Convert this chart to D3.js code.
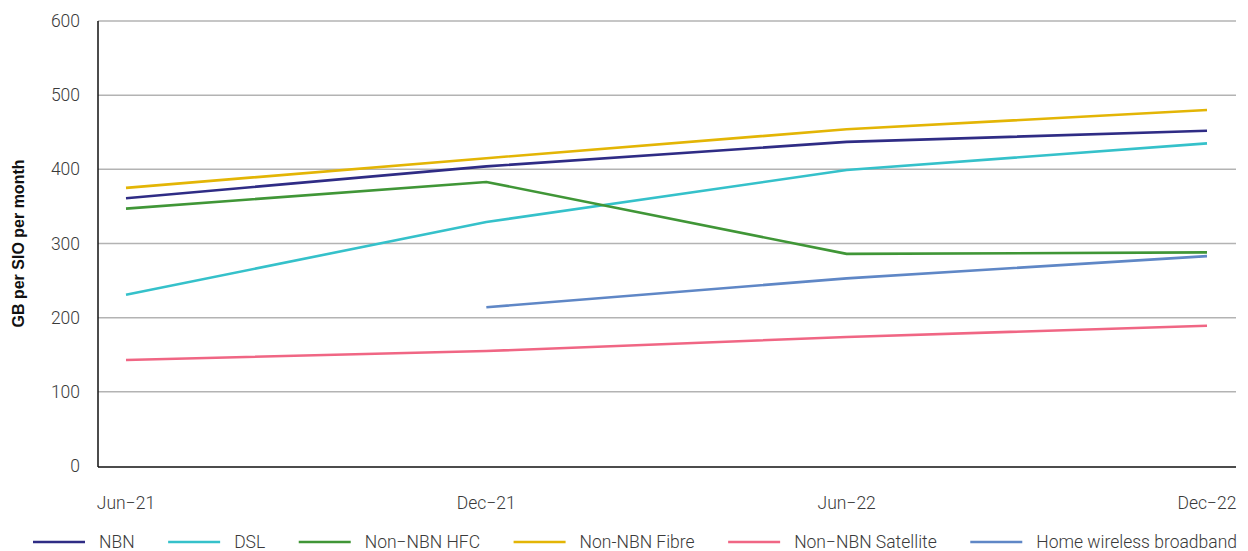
<!DOCTYPE html>
<html>
<head>
<meta charset="utf-8">
<script src="https://cdn.jsdelivr.net/npm/d3@7"></script>
<style>
  html, body { margin: 0; padding: 0; background: #fff; }
  svg { display: block; font-family: Roboto, "Noto Sans", sans-serif; }
</style>
</head>
<body>
<svg id="chart" width="1248" height="551"></svg>
<script>
// Average monthly download volume per service (GB per SIO)
const periods = ["Jun\u221221", "Dec\u221221", "Jun\u221222", "Dec\u221222"];
const yTicks = [0, 100, 200, 300, 400, 500, 600];

const nbn          = [361, 404, 437, 452];
const dsl          = [231, 329, 399, 435];
const nonNbnHfc    = [347, 383, 286, 288];
const nonNbnFibre  = [375, 415, 454, 480];
const nonNbnSat    = [143, 155, 174, 189];
const homeWireless = [null, 214, 253, 283];

const seriesNames  = ["NBN", "DSL", "Non\u2212NBN HFC", "Non-NBN Fibre", "Non\u2212NBN Satellite", "Home wireless broadband"];
const seriesValues = [nbn, dsl, nonNbnHfc, nonNbnFibre, nonNbnSat, homeWireless];
const seriesColors = ["#2f2c85", "#35c1ca", "#409637", "#e3b505", "#f06684", "#5f87c6"];

const labelSize = 17.5;
const labelColor = "#3a3a3a";

const svg = d3.select("#chart");
const plot = { left: 98, right: 1236, top: 21, bottom: 466 };

const x = d3.scalePoint().domain(periods).range([126, 1207]);
const y = d3.scaleLinear().domain([0, 600]).range([plot.bottom, plot.top]);

// Horizontal gridlines
svg.append("g")
  .selectAll("line")
  .data(yTicks.filter(d => d > 0))
  .join("line")
  .attr("x1", plot.left).attr("x2", plot.right)
  .attr("y1", d => y(d)).attr("y2", d => y(d))
  .attr("stroke", "#b3b3b3").attr("stroke-width", 1.5);

// Y axis tick labels
svg.append("g")
  .selectAll("text")
  .data(yTicks)
  .join("text")
  .attr("x", 80).attr("y", d => y(d))
  .attr("dy", "0.35em")
  .attr("text-anchor", "end")
  .attr("font-size", labelSize).attr("font-weight", 300)
  .attr("fill", labelColor)
  .text(d => d);

// X axis labels
svg.append("g")
  .selectAll("text")
  .data(periods)
  .join("text")
  .attr("x", d => x(d)).attr("y", 509)
  .attr("text-anchor", "middle")
  .attr("font-size", labelSize).attr("font-weight", 300)
  .attr("fill", labelColor)
  .text(d => d);

// Axis lines
svg.append("line")
  .attr("x1", plot.left).attr("x2", plot.left)
  .attr("y1", plot.top).attr("y2", plot.bottom + 1)
  .attr("stroke", "#111").attr("stroke-width", 1.5);
svg.append("line")
  .attr("x1", plot.left).attr("x2", plot.right)
  .attr("y1", plot.bottom + 1).attr("y2", plot.bottom + 1)
  .attr("stroke", "#111").attr("stroke-width", 1.5);

// Y axis title
svg.append("text")
  .attr("transform", `translate(24, ${(plot.top + plot.bottom) / 2}) rotate(-90)`)
  .attr("text-anchor", "middle")
  .attr("font-family", "'Liberation Sans', Arial, sans-serif")
  .attr("font-size", 16).attr("font-weight", 700)
  .attr("fill", "#111")
  .text("GB per SIO per month");

// Series lines
const line = d3.line()
  .defined(d => d.v != null)
  .x(d => x(d.p))
  .y(d => y(d.v));

svg.append("g")
  .selectAll("path")
  .data(seriesValues.map((vals, i) => ({ i, pts: vals.map((v, j) => ({ p: periods[j], v })) })))
  .join("path")
  .attr("d", d => line(d.pts))
  .attr("fill", "none")
  .attr("stroke", d => seriesColors[d.i])
  .attr("stroke-width", 2.6)
  .attr("stroke-linejoin", "round");

// Legend, spread across the bottom
const legend = svg.append("g");
const swatch = 52, swatchGap = 14, legY = 542, legLeft = 33, legRight = 1237;
const items = seriesNames.map((name, i) => {
  const g = legend.append("g");
  g.append("line")
    .attr("x1", 0).attr("x2", swatch)
    .attr("y1", 0).attr("y2", 0)
    .attr("stroke", seriesColors[i]).attr("stroke-width", 2.6);
  const t = g.append("text")
    .attr("x", swatch + swatchGap).attr("dy", "0.35em")
    .attr("font-size", labelSize).attr("font-weight", 300)
    .attr("fill", labelColor)
    .text(name);
  return { g, w: swatch + swatchGap + t.node().getComputedTextLength() };
});
const totalW = d3.sum(items, d => d.w);
const gap = (legRight - legLeft - totalW) / (items.length - 1);
let cx = legLeft;
items.forEach(it => {
  it.g.attr("transform", `translate(${cx}, ${legY})`);
  cx += it.w + gap;
});
</script>
</body>
</html>
